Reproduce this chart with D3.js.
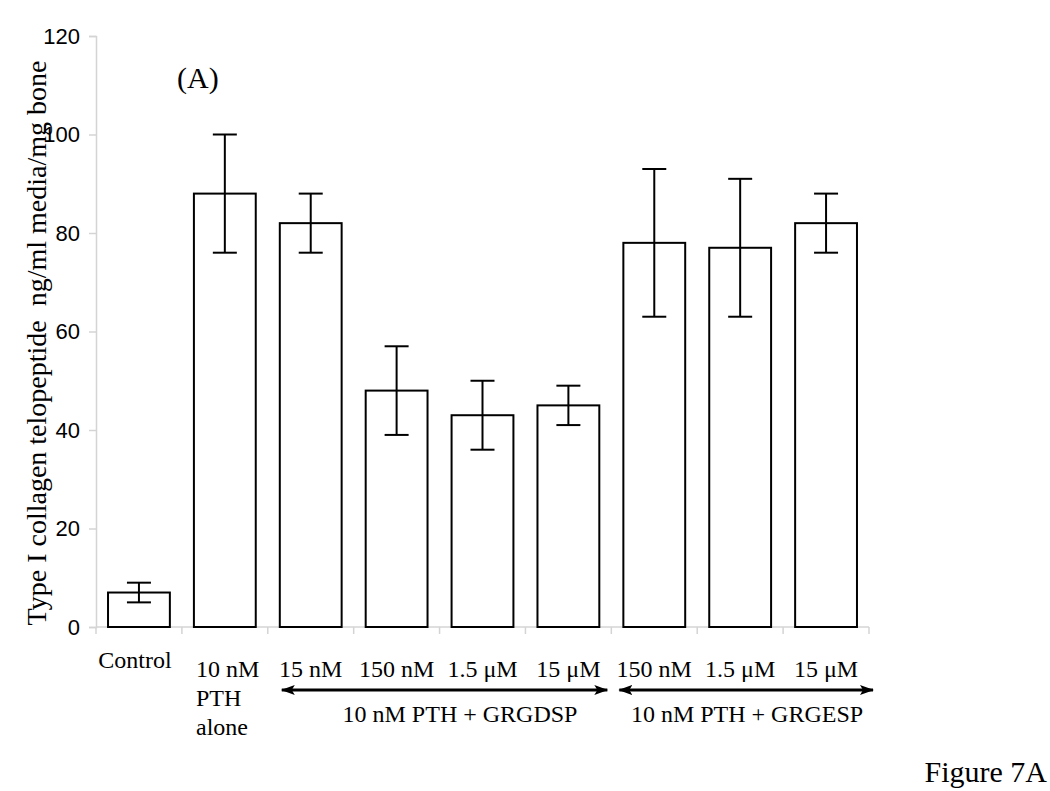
<!DOCTYPE html>
<html>
<head>
<meta charset="utf-8">
<script src="https://cdn.jsdelivr.net/npm/d3@7"></script>
<style>
  body { margin: 0; background: #fff; }
  svg text { fill: #000; }
</style>
</head>
<body>
<svg id="chart"></svg>
<script>
const width = 1050;
const height = 791;

// data
const categories = ['Control', 'PTH alone', 'GRGDSP 15 nM', 'GRGDSP 150 nM', 'GRGDSP 1.5 uM', 'GRGDSP 15 uM',
                    'GRGESP 150 nM', 'GRGESP 1.5 uM', 'GRGESP 15 uM'];
const means = [7, 88, 82, 48, 43, 45, 78, 77, 82];
const errLow = [5, 76, 76, 39, 36, 41, 63, 63, 76];
const errHigh = [9, 100, 88, 57, 50, 49, 93, 91, 88];
const tickLabels = ['', '', '15 nM', '150 nM', '1.5 μM', '15 μM', '150 nM', '1.5 μM', '15 μM'];
const yTicks = [0, 20, 40, 60, 80, 100, 120];
const groups = [
  {label: '10 nM PTH + GRGDSP', from: 2, to: 5},
  {label: '10 nM PTH + GRGESP', from: 6, to: 8}
];

const svg = d3.select('#chart')
    .attr('width', width)
    .attr('height', height);

const x = d3.scaleBand()
    .domain(categories)
    .range([96, 869])
    .paddingInner(0.28)
    .paddingOuter(0.14);
const y = d3.scaleLinear()
    .domain([0, 120])
    .range([627, 36]);

const serif = 'Liberation Serif, Times New Roman, serif';
const sans = 'Liberation Sans, Arial, sans-serif';
const axisGrey = '#d4d4d4';

// y axis
const yAxis = svg.append('g')
    .attr('transform', 'translate(96,0)')
    .call(d3.axisLeft(y).tickValues(yTicks).tickSize(7).tickPadding(9));
yAxis.select('.domain').attr('stroke', axisGrey).attr('stroke-width', 1.5);
yAxis.selectAll('.tick line').attr('stroke', axisGrey).attr('stroke-width', 1.5);
yAxis.selectAll('.tick text')
    .attr('font-family', sans)
    .attr('font-size', 22)
    .attr('fill', '#000');

// x axis line + band boundary ticks
const step = x.step();
const bandEdges = categories.map(c => x(c) - x.paddingInner() * step / 2).concat([869]);
svg.append('line')
    .attr('x1', 96).attr('x2', 869)
    .attr('y1', y(0)).attr('y2', y(0))
    .attr('stroke', axisGrey).attr('stroke-width', 1.5);
svg.selectAll('.xtick')
  .data(bandEdges)
  .enter()
  .append('line')
    .attr('x1', d => d).attr('x2', d => d)
    .attr('y1', y(0)).attr('y2', y(0) + 7)
    .attr('stroke', axisGrey).attr('stroke-width', 1.5);

// bars
svg.selectAll('.bar')
  .data(categories)
  .enter()
  .append('rect')
    .attr('x', d => x(d))
    .attr('y', (d, i) => y(means[i]))
    .attr('width', x.bandwidth())
    .attr('height', (d, i) => y(0) - y(means[i]))
    .attr('fill', '#fff')
    .attr('stroke', '#000')
    .attr('stroke-width', 2);

// error bars
const cx = d => x(d) + x.bandwidth() / 2;
const err = svg.selectAll('.err')
  .data(categories)
  .enter()
  .append('g');
err.append('line')
    .attr('x1', cx).attr('x2', cx)
    .attr('y1', (d, i) => y(errLow[i])).attr('y2', (d, i) => y(errHigh[i]))
    .attr('stroke', '#000').attr('stroke-width', 2);
err.append('line')
    .attr('x1', d => cx(d) - 12).attr('x2', d => cx(d) + 12)
    .attr('y1', (d, i) => y(errLow[i])).attr('y2', (d, i) => y(errLow[i]))
    .attr('stroke', '#000').attr('stroke-width', 2);
err.append('line')
    .attr('x1', d => cx(d) - 12).attr('x2', d => cx(d) + 12)
    .attr('y1', (d, i) => y(errHigh[i])).attr('y2', (d, i) => y(errHigh[i]))
    .attr('stroke', '#000').attr('stroke-width', 2);

// category labels
svg.append('text')
    .attr('x', cx(categories[0]) - 4)
    .attr('y', 668)
    .attr('text-anchor', 'middle')
    .attr('font-family', serif)
    .attr('font-size', 24)
    .text('Control');
const pth = svg.append('text')
    .attr('font-family', serif)
    .attr('font-size', 24);
['10 nM', 'PTH', 'alone'].forEach((t, i) => {
  pth.append('tspan')
      .attr('x', 196)
      .attr('y', 677 + i * 29)
      .text(t);
});
svg.selectAll('.conc')
  .data(categories.slice(2))
  .enter()
  .append('text')
    .attr('x', cx)
    .attr('y', 677)
    .attr('text-anchor', 'middle')
    .attr('font-family', serif)
    .attr('font-size', 24)
    .text((d, i) => tickLabels[i + 2]);

// group arrows
const defs = svg.append('defs');
['arrowEnd', 'arrowStart'].forEach(id => {
  defs.append('marker')
      .attr('id', id)
      .attr('viewBox', '0 0 14 10')
      .attr('refX', 13).attr('refY', 5)
      .attr('markerWidth', 14).attr('markerHeight', 10)
      .attr('markerUnits', 'userSpaceOnUse')
      .attr('orient', id === 'arrowEnd' ? 'auto' : 'auto-start-reverse')
    .append('path')
      .attr('d', 'M0,0 L14,5 L0,10 L3,5 Z')
      .attr('fill', '#000');
});
const groupLeft = g => x(categories[g.from]) - 0.28 * step / 2;
const groupRight = g => x(categories[g.to]) + x.bandwidth() + 0.28 * step / 2;
svg.selectAll('.arrow')
  .data(groups)
  .enter()
  .append('line')
    .attr('x1', (d, i) => groupLeft(d) + (i === 0 ? 14 : 8))
    .attr('x2', (d, i) => groupRight(d) - (i === 0 ? 4 : -4))
    .attr('y1', 690).attr('y2', 690)
    .attr('stroke', '#000').attr('stroke-width', 3)
    .attr('marker-start', 'url(#arrowStart)')
    .attr('marker-end', 'url(#arrowEnd)');
svg.selectAll('.glabel')
  .data(groups)
  .enter()
  .append('text')
    .attr('x', (d, i) => i === 0 ? 460 : 747)
    .attr('y', 722)
    .attr('text-anchor', 'middle')
    .attr('font-family', serif)
    .attr('font-size', 24)
    .text(d => d.label);

// y axis title
svg.append('text')
    .attr('transform', 'translate(46,343) rotate(-90)')
    .attr('text-anchor', 'middle')
    .attr('font-family', serif)
    .attr('font-size', 28)
    .attr('xml:space', 'preserve')
    .style('white-space', 'pre')
    .text('Type I collagen telopeptide  ng/ml media/mg bone');

// panel label and figure caption
svg.append('text')
    .attr('x', 177).attr('y', 88)
    .attr('font-family', serif)
    .attr('font-size', 30)
    .text('(A)');
svg.append('text')
    .attr('x', 1047).attr('y', 782)
    .attr('text-anchor', 'end')
    .attr('font-family', serif)
    .attr('font-size', 30)
    .text('Figure 7A');
</script>
</body>
</html>
